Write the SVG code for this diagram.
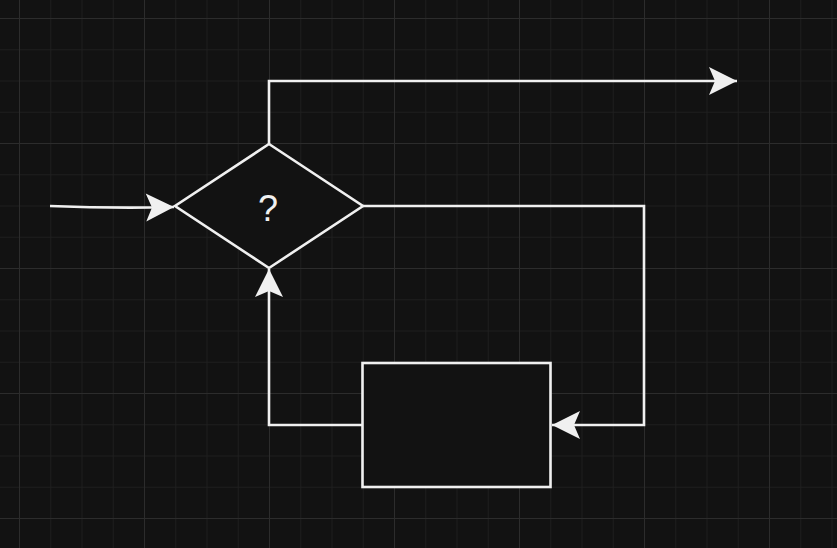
<svg xmlns="http://www.w3.org/2000/svg" width="837" height="548" viewBox="0 0 837 548">
  <style>
    .shape { fill: #121212; stroke: #f0f0f0; stroke-width: 2.6; }
    .edge { fill: none; stroke: #f0f0f0; stroke-width: 2.6; }
    .label { fill: #f0f0f0; font-family: "Liberation Sans", Arial, sans-serif; font-size: 36px; text-anchor: middle; }
  </style>
  <defs>
    <pattern id="grid" patternUnits="userSpaceOnUse" x="19" y="18" width="125" height="125">
      <rect x="0" y="0" width="125" height="125" fill="#121212"/>
      <g fill="#1e1e1e">
        <rect x="31.25" y="0" width="1" height="125"/>
        <rect x="62.5" y="0" width="1" height="125"/>
        <rect x="93.75" y="0" width="1" height="125"/>
        <rect x="0" y="31.25" width="125" height="1"/>
        <rect x="0" y="62.5" width="125" height="1"/>
        <rect x="0" y="93.75" width="125" height="1"/>
      </g>
      <g fill="#2c2c2c">
        <rect x="0" y="0" width="1" height="125"/>
        <rect x="0" y="0" width="125" height="1"/>
      </g>
    </pattern>
    <marker id="arrow" markerUnits="userSpaceOnUse" viewBox="-29 -15 30 30" refX="0" refY="0" markerWidth="30" markerHeight="30" orient="auto">
      <path d="M0,0 L-28,-14 L-22,0 L-28,14 Z" fill="#f0f0f0"/>
    </marker>
  </defs>
  <rect x="0" y="0" width="837" height="548" fill="url(#grid)"/>

  <g id="connectors">
    <path class="edge" d="M50,206 Q100,208 150,207.5 L174,207" marker-end="url(#arrow)"/>
    <path class="edge" d="M269,144 L269,81 L737,81" marker-end="url(#arrow)"/>
    <path class="edge" d="M363,206 L644,206 L644,425 L552,425" marker-end="url(#arrow)"/>
    <path class="edge" d="M362,425 L269,425 L269,269" marker-end="url(#arrow)"/>
  </g>

  <g id="decision">
    <path class="shape" d="M269,144 L363,206 L269,268 L175,206 Z"/>
    <text class="label" x="268" y="221">?</text>
  </g>

  <g id="process">
    <rect class="shape" x="362.5" y="363" width="188" height="124"/>
  </g>
</svg>
